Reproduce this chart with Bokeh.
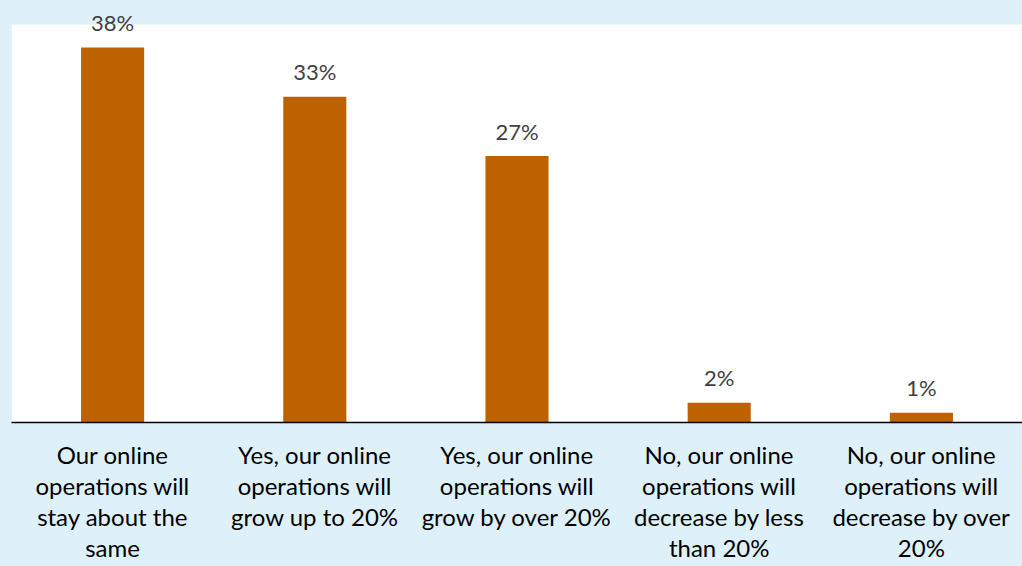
from bokeh.plotting import figure
from bokeh.models import FactorRange, BoxAnnotation, ColumnDataSource
from bokeh.core.properties import value
from bokeh.embed import file_html
from bokeh.resources import INLINE

categories = [
    "Our online\noperations will\nstay about the\nsame",
    "Yes, our online\noperations will\ngrow up to 20%",
    "Yes, our online\noperations will\ngrow by over 20%",
    "No, our online\noperations will\ndecrease by less\nthan 20%",
    "No, our online\noperations will\ndecrease by over\n20%",
]
values = [38, 33, 27, 2, 1]
value_labels = ["38%", "33%", "27%", "2%", "1%"]

BG = "#DEF1FA"
BAR = "#BE6100"
FONT = "Lato"

src = ColumnDataSource(dict(cat=categories, val=values, lab=value_labels))

p = figure(
    x_range=FactorRange(factors=categories, range_padding=0),
    y_range=(0, 42.76),
    width=1022, height=566,
    output_backend="svg", toolbar_location=None,
    min_border_left=11, min_border_right=0, min_border_top=0, min_border_bottom=144,
)
p.background_fill_color = BG
p.border_fill_color = BG
p.outline_line_color = None
p.grid.visible = False
p.yaxis.visible = False

p.add_layout(BoxAnnotation(bottom=0, top=40.33, fill_color="white", fill_alpha=1.0,
                           line_color=None, level="underlay"))

p.vbar(x="cat", top="val", width=0.312, source=src, color=BAR, line_color=None)
p.text(x="cat", y="val", text="lab", source=src, text_align="center",
       text_baseline="middle", y_offset=-25, text_color="#404040",
       text_font=value(FONT), text_font_size="22px")

ax = p.xaxis[0]
ax.axis_line_color = "black"
ax.axis_line_width = 1.5
ax.major_tick_line_color = None
ax.minor_tick_line_color = None
ax.major_tick_out = 0
ax.major_tick_in = 0
ax.major_label_standoff = 17
ax.major_label_text_font = FONT
ax.major_label_text_font_size = "24px"
ax.major_label_text_color = "black"
ax.major_label_text_line_height = 1.08
ax.major_label_orientation = "horizontal"

html = file_html(p, INLINE)
html = html.replace("</head>", "<style>html,body{background:" + BG + ";overflow:hidden;}</style></head>")
open("out.html", "w").write(html)
